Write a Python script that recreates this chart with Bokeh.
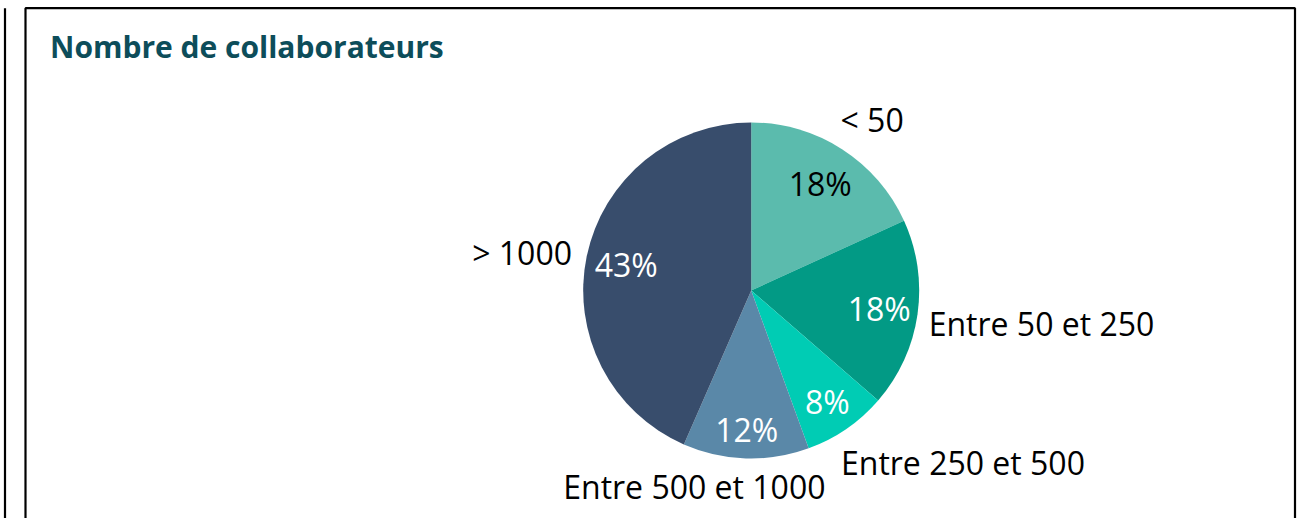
import math
from bokeh.plotting import figure
from bokeh.models import Range1d, ColumnDataSource
from bokeh.core.properties import value
from bokeh.embed import file_html
from bokeh.resources import INLINE

# ---- data ----
chart_title = "Nombre de collaborateurs"
categories = ["< 50", "Entre 50 et 250", "Entre 250 et 500", "Entre 500 et 1000", "> 1000"]
values = [18, 18, 8, 12, 43]
colors = ["#5BBBAD", "#029A85", "#00CCB4", "#5A88A8", "#384D6C"]
pct_colors = ["#000000", "#FFFFFF", "#FFFFFF", "#FFFFFF", "#FFFFFF"]

# ---- layout ----
W, H = 1307, 518
CX, CY, R = 750.7, 228.0, 168.0
FONT = "Open Sans"
FS = 32
pct_k = [0.76, 0.77, 0.80, 0.83, 0.76]
cat_k = 1.06
cat_nudge = [(-7, 20.9), (1.2, -7.7), (-11.2, -25.8), (-51.2, -17.9), (-4.9, 1.8)]
cat_align = ["left", "left", "left", "center", "right"]

total = float(sum(values))
starts, ends, mids = [], [], []
cum = 0.0
for v in values:
    a0 = math.pi / 2 - 2 * math.pi * cum / total
    cum += v
    a1 = math.pi / 2 - 2 * math.pi * cum / total
    starts.append(a0)
    ends.append(a1)
    mids.append((a0 + a1) / 2)

src = ColumnDataSource(dict(start=starts, end=ends, color=colors))

p = figure(width=W, height=H, output_backend="svg", toolbar_location=None,
           x_range=Range1d(0, W), y_range=Range1d(0, H),
           min_border=0, min_border_left=0, min_border_right=0,
           min_border_top=0, min_border_bottom=0)
p.axis.visible = False
p.grid.visible = False
p.outline_line_color = None
p.background_fill_color = "white"
p.border_fill_color = "white"

# frame lines
p.line(x=[25, 25, 1294.5, 1294.5], y=[-10, 510.3, 510.3, -10], line_color="black", line_width=2.2)
p.line(x=[4.5, 4.5], y=[-10, 510.3], line_color="black", line_width=2.2)

# pie
p.wedge(x=CX, y=CY, radius=R, start_angle="start", end_angle="end",
        direction="clock", fill_color="color", line_color=None, source=src)

# title
p.text(x=[49.5], y=[472.3], text=[chart_title], text_font=value(FONT),
       text_font_size=value("30px"), text_font_style="bold", text_color="#0D4D5A",
       text_align="left", text_baseline="alphabetic")

# percent labels
px, py = [], []
for k, m in zip(pct_k, mids):
    px.append(CX + k * R * math.cos(m))
    py.append(CY + k * R * math.sin(m))
p.text(x=px, y=py, text=[f"{v}%" for v in values], text_color=pct_colors,
       text_font=value(FONT), text_font_size=value(f"{FS}px"),
       text_align="center", text_baseline="alphabetic")

# category labels
for cat, m, (dx, dy), al in zip(categories, mids, cat_nudge, cat_align):
    x = CX + cat_k * R * math.cos(m) + dx
    y = CY + cat_k * R * math.sin(m) + dy
    p.text(x=[x], y=[y], text=[cat], text_color="#000000",
           text_font=value(FONT), text_font_size=value(f"{FS}px"),
           text_align=al, text_baseline="alphabetic")

open("out.html", "w").write(file_html(p, INLINE))
